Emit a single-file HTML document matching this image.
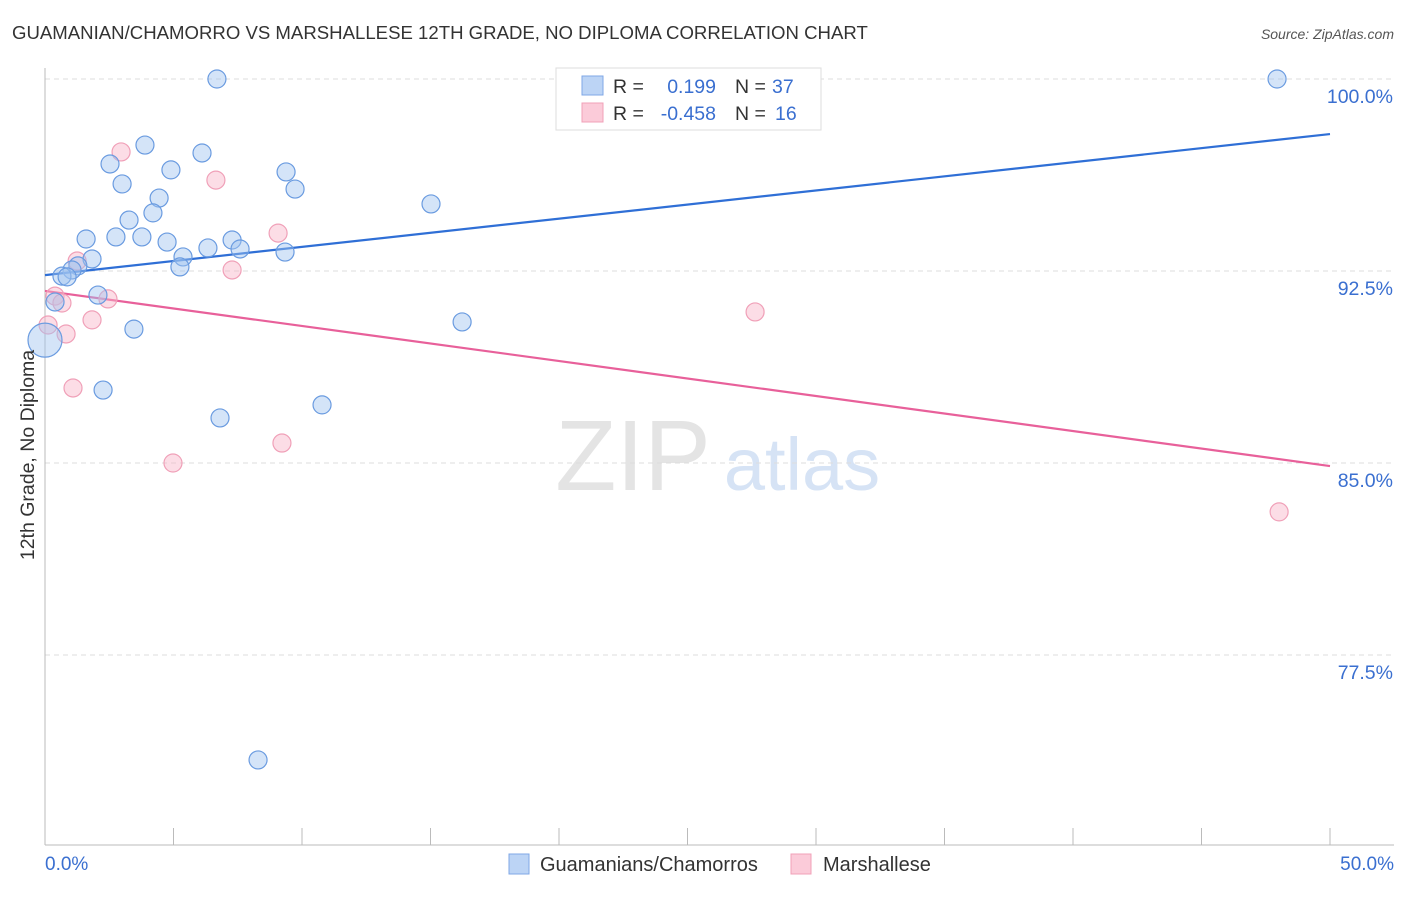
<!DOCTYPE html>
<html><head><meta charset="utf-8"><style>
body{margin:0;background:#fff;font-family:"Liberation Sans",sans-serif}
svg text{font-family:"Liberation Sans",sans-serif}
</style></head><body>
<svg width="1406" height="892" xmlns="http://www.w3.org/2000/svg">
<text x="12" y="39" font-size="18.6" fill="#333">GUAMANIAN/CHAMORRO VS MARSHALLESE 12TH GRADE, NO DIPLOMA CORRELATION CHART</text>
<text x="1394" y="39" font-size="14" fill="#555" font-style="italic" text-anchor="end">Source: ZipAtlas.com</text>
<g>
<text x="633" y="490" font-size="100" fill="#e4e4e4" font-family="Liberation Serif,serif" text-anchor="middle">ZIP</text>
<text x="802" y="490" font-size="74" fill="#d6e3f5" text-anchor="middle">atlas</text>
</g>
<g id="grid"></g>
<g id="axes"></g>
<g id="lines"></g>
<g id="pts"></g>
<text transform="translate(34,455) rotate(-90)" font-size="19.5" fill="#333" text-anchor="middle">12th Grade, No Diploma</text>
<text x="45" y="870" font-size="19" fill="#3a6fd0">0.0%</text>
<text x="1394" y="870" font-size="19" fill="#3a6fd0" text-anchor="end">50.0%</text>
<g>
<rect x="556" y="68" width="265" height="62" fill="#fff" stroke="#ddd"/>
<rect x="582" y="76" width="21" height="19" fill="#bcd4f5" stroke="#7fa7e6"/>
<rect x="582" y="103" width="21" height="19" fill="#fbcbd9" stroke="#f0a0b8"/>
<text x="613" y="93" font-size="19.5" fill="#333">R =</text>
<text x="716" y="93" font-size="19.5" fill="#3a6fd0" text-anchor="end">0.199</text>
<text x="735" y="93" font-size="19.5" fill="#333">N =</text>
<text x="772" y="93" font-size="19.5" fill="#3a6fd0">37</text>
<text x="613" y="120" font-size="19.5" fill="#333">R =</text>
<text x="716" y="120" font-size="19.5" fill="#3a6fd0" text-anchor="end">-0.458</text>
<text x="735" y="120" font-size="19.5" fill="#333">N =</text>
<text x="775" y="120" font-size="19.5" fill="#3a6fd0">16</text>
</g>
<g>
<rect x="509" y="854" width="20" height="20" fill="#bcd4f5" stroke="#7fa7e6"/>
<text x="540" y="871" font-size="20" fill="#333">Guamanians/Chamorros</text>
<rect x="791" y="854" width="20" height="20" fill="#fbcbd9" stroke="#f0a0b8"/>
<text x="823" y="871" font-size="20" fill="#333">Marshallese</text>
</g>
</svg>
<script>
const yTicks=[100,92.5,85,77.5];
const yTickLabels=["100.0%","92.5%","85.0%","77.5%"];
const xTicks=[0,5,10,15,20,25,30,35,40,45,50];
const blueX=[6.69,47.94,3.89,2.53,4.90,6.11,3.00,9.38,9.73,4.44,4.20,3.27,15.02,1.60,2.76,3.77,4.75,6.34,7.28,7.59,9.34,1.83,5.37,5.25,1.28,1.05,0.66,0.86,0.39,2.06,3.46,16.23,0.0,2.26,6.81,10.78,8.29];
const blueY=[100,100,97.42,96.68,96.45,97.11,95.90,96.37,95.70,95.35,94.77,94.49,95.12,93.75,93.83,93.83,93.63,93.40,93.71,93.36,93.24,92.97,93.05,92.66,92.70,92.54,92.30,92.27,91.29,91.56,90.23,90.51,89.80,87.85,86.76,87.27,73.40];
const pinkX=[2.96,6.65,9.07,1.25,7.28,0.39,0.66,2.45,1.83,0.12,0.82,27.63,1.09,4.98,9.22,48.02];
const pinkY=[97.15,96.05,93.98,92.89,92.54,91.52,91.25,91.41,90.59,90.39,90.04,90.90,87.93,85.0,85.78,83.09];
const blueLine=[92.34,97.85];
const pinkLine=[91.72,84.88];
const NS="http://www.w3.org/2000/svg";
const X=v=>45+v*25.7;
const Y=v=>79+(100-v)*25.6;
function mk(t,a,p){const e=document.createElementNS(NS,t);for(const k in a)e.setAttribute(k,a[k]);document.getElementById(p).appendChild(e);return e;}
yTicks.forEach((t,i)=>{
 const g=mk('line',{x1:45,x2:1394,y1:Y(t),y2:Y(t),stroke:'#ddd','stroke-dasharray':'5,4'},'grid');
 
 
 const l=mk('text',{x:1393,y:Y(t)+24,'font-size':19.5,fill:'#3a6fd0','text-anchor':'end'},'grid');
 l.textContent=yTickLabels[i];
 
 
});
const ax=mk('line',{x1:45,x2:1394,y1:845,y2:845,stroke:'#bbb'},'axes');


const ay=mk('line',{x1:45,x2:45,y1:68,y2:845,stroke:'#bbb'},'axes');


xTicks.forEach(t=>{
 const k=mk('line',{x1:X(t),x2:X(t),y1:828,y2:845,stroke:'#bbb'},'axes');
 
 
});
const bl=mk('line',{x1:X(0),x2:X(50),y1:Y(blueLine[0]),y2:Y(blueLine[1]),stroke:'#2f6fd6','stroke-width':2.2},'lines');


const pl=mk('line',{x1:X(0),x2:X(50),y1:Y(pinkLine[0]),y2:Y(pinkLine[1]),stroke:'#e8609a','stroke-width':2.2},'lines');


pinkX.forEach((v,i)=>{
 const c=mk('circle',{cx:X(v),cy:Y(pinkY[i]),r:9,fill:'rgba(248,180,200,0.45)',stroke:'#f0a0b8','stroke-width':1.2},'pts');
 
 
});
blueX.forEach((v,i)=>{
 const c=mk('circle',{cx:X(v),cy:Y(blueY[i]),r:(v===0?17:9),fill:'rgba(160,196,240,0.45)',stroke:'#6a9be0','stroke-width':1.2},'pts');
 
 
});
</script>
</body></html>
